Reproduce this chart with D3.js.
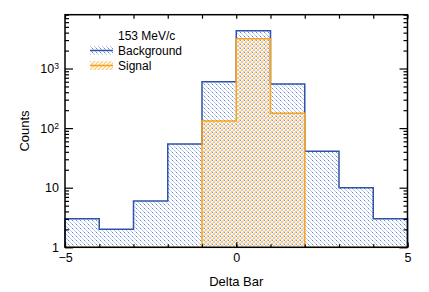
<!DOCTYPE html>
<html>
<head>
<meta charset="utf-8">
<script src="https://cdn.jsdelivr.net/npm/d3@7"></script>
<style>
  body { margin: 0; background: #fff; }
  text { font-family: "Liberation Sans", Arial, sans-serif; }
</style>
</head>
<body>
<script>
// bin edges and counts
const binEdges = [-5, -4, -3, -2, -1, 0, 1, 2, 3, 4, 5];
const background = [3, 2, 6, 54, 600, 4300, 550, 41, 10, 3];
const signal = [0, 0, 0, 0, 132, 3150, 178, 0, 0, 0];
const legendTitle = "153 MeV/c";
const seriesNames = ["Background", "Signal"];
const yMajorTicks = [1, 10, 100, 1000];
const xMajorTicks = [-5, 0, 5];

const width = 429;
const height = 292;
const margin = { top: 14.7, right: 21.5, bottom: 44.7, left: 65 };
const blue = "#2f52a8";
const orange = "#f7a21b";

const svg = d3.select("body").append("svg")
    .attr("width", width)
    .attr("height", height);

const defs = svg.append("defs");
// background: "\" pixel hatch
const pb = defs.append("pattern")
    .attr("id", "hatchBlue")
    .attr("patternUnits", "userSpaceOnUse")
    .attr("width", 4).attr("height", 4);
d3.range(4).forEach(i => {
    pb.append("rect")
        .attr("x", i).attr("y", i).attr("width", 1).attr("height", 1)
        .attr("shape-rendering", "crispEdges")
        .attr("fill", i === 0 ? "#6a8ad0" : "#b6c8ee");
});
// signal: "/" hatch, a bit wider and lighter
const po = defs.append("pattern")
    .attr("id", "hatchOrange")
    .attr("patternUnits", "userSpaceOnUse")
    .attr("width", 4).attr("height", 4);
po.append("path")
    .attr("d", "M-1,1 L1,-1 M0,4 L4,0 M3,5 L5,3")
    .attr("stroke", "#fccd80").attr("stroke-width", 1.3).attr("fill", "none");

const x = d3.scaleLinear()
    .domain([-5, 5])
    .range([margin.left, width - margin.right]);
const y = d3.scaleLog()
    .domain([1, 8000])
    .range([height - margin.bottom, margin.top])
    .clamp(true);

function stepPoints(vals) {
    const pts = [[binEdges[0], 1]];
    vals.forEach((v, i) => {
        const vv = Math.max(v, 1);
        pts.push([binEdges[i], vv], [binEdges[i + 1], vv]);
    });
    pts.push([binEdges[binEdges.length - 1], 1]);
    return pts;
}
const line = d3.line().x(d => x(d[0])).y(d => y(d[1]));

const g = svg.append("g");
g.append("path").attr("d", line(stepPoints(background)) + "Z")
    .attr("fill", "url(#hatchBlue)").attr("stroke", "none");
g.append("path").attr("d", line(stepPoints(signal)) + "Z")
    .attr("fill", "url(#hatchOrange)").attr("stroke", "none");
// redraw blue dots on top so crosshatch keeps both colours
g.append("path").attr("d", line(stepPoints(signal)) + "Z")
    .attr("fill", "url(#hatchBlue)").attr("opacity", 0.6).attr("stroke", "none");
g.append("path").attr("d", line(stepPoints(background)))
    .attr("fill", "none").attr("stroke", blue).attr("stroke-width", 1.5);
g.append("path").attr("d", line(stepPoints(signal)))
    .attr("fill", "none").attr("stroke", orange).attr("stroke-width", 1.5);

// axes, ticks inward
const y0 = height - margin.bottom, x0 = margin.left, x1 = width - margin.right;
const minorX = d3.range(-5, 6, 1);
const minorY = [];
for (let e = 0; e < 4; e++) for (let k = 2; k <= 9; k++) {
    const v = k * Math.pow(10, e);
    if (v <= 8000) minorY.push(v);
}

function styleAxis(sel) {
    sel.select(".domain").remove();
    sel.selectAll("line").attr("stroke", "#000").attr("stroke-width", 1.2);
    sel.selectAll("text").attr("font-size", 12.5).attr("fill", "#000")
        .style("font-family", "'Liberation Sans', Arial, sans-serif");
}

svg.append("g").attr("transform", `translate(0,${y0})`)
    .call(d3.axisBottom(x).tickValues(minorX).tickSize(-3).tickFormat(""))
    .call(styleAxis);
svg.append("g").attr("transform", `translate(0,${y0})`)
    .call(d3.axisBottom(x).tickValues(xMajorTicks).tickSize(-5).tickPadding(6)
        .tickFormat(d => d < 0 ? "\u2212" + Math.abs(d) : d))
    .call(styleAxis);
svg.append("g").attr("transform", `translate(0,${margin.top})`)
    .call(d3.axisTop(x).tickValues(minorX).tickSize(-4).tickFormat(""))
    .call(styleAxis);

svg.append("g").attr("transform", `translate(${x0},0)`)
    .call(d3.axisLeft(y).tickValues(minorY).tickSize(-4).tickFormat(""))
    .call(styleAxis);
const yAx = svg.append("g").attr("transform", `translate(${x0},0)`)
    .call(d3.axisLeft(y).tickValues(yMajorTicks).tickSize(-8).tickPadding(6).tickFormat(""))
    .call(styleAxis);
yAx.selectAll(".tick text").each(function (d) {
    const t = d3.select(this);
    const e = Math.round(Math.log10(d));
    if (e < 2) { t.text(d); return; }
    t.append("tspan").text("10");
    t.append("tspan").attr("font-size", 8.5).attr("dy", "-0.45em").text(e);
});
svg.append("g").attr("transform", `translate(${x1},0)`)
    .call(d3.axisRight(y).tickValues(minorY).tickSize(-4).tickFormat(""))
    .call(styleAxis);
svg.append("g").attr("transform", `translate(${x1},0)`)
    .call(d3.axisRight(y).tickValues(yMajorTicks).tickSize(-8).tickFormat(""))
    .call(styleAxis);

svg.append("rect")
    .attr("x", x0).attr("y", margin.top)
    .attr("width", x1 - x0).attr("height", y0 - margin.top)
    .attr("fill", "none").attr("stroke", "#000").attr("stroke-width", 1.5);

// axis titles
svg.append("text")
    .attr("x", (x0 + x1) / 2).attr("y", 286)
    .attr("text-anchor", "middle").attr("font-size", 13)
    .text("Delta Bar");
svg.append("text")
    .attr("transform", `translate(29,${(margin.top + y0) / 2}) rotate(-90)`)
    .attr("text-anchor", "middle").attr("font-size", 13)
    .text("Counts");

// legend
const leg = svg.append("g");
leg.append("text").attr("x", 118).attr("y", 40).attr("font-size", 12).text(legendTitle);
const legFill = ["url(#hatchBlue)", "url(#hatchOrange)"];
const legLine = [blue, orange];
seriesNames.forEach((name, i) => {
    const cy = 50.5 + i * 15;
    leg.append("rect").attr("x", 90).attr("y", cy - 4.5).attr("width", 23).attr("height", 9)
        .attr("fill", legFill[i]);
    leg.append("line").attr("x1", 90).attr("x2", 113).attr("y1", cy).attr("y2", cy)
        .attr("stroke", legLine[i]).attr("stroke-width", 1.5);
    leg.append("text").attr("x", 118).attr("y", cy + 4.2).attr("font-size", 12).text(name);
});
</script>
</body>
</html>
